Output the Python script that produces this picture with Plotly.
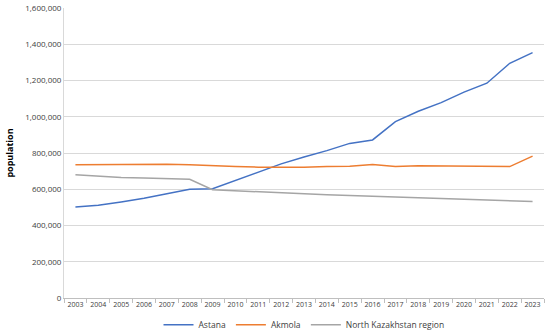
import plotly.graph_objects as go

years = [str(y) for y in range(2003, 2024)]
astana = [502000, 512000, 530000, 550000, 575000, 600000, 603000, 650000, 697000, 740000,
          778000, 813000, 853000, 872000, 973000, 1030000, 1078000, 1136000, 1185000, 1295000, 1354000]
akmola = [735000, 736000, 734000, 736000, 738000, 735000, 729000, 725000, 722000, 720000,
          722000, 726000, 727000, 736000, 725000, 729000, 728000, 729000, 727000, 725000, 783000]
north_kz = [680000, 672000, 665000, 662000, 660000, 655000, 597000, 591000, 586000, 580000,
            575000, 570000, 566000, 563000, 557000, 553000, 549000, 545000, 540000, 537000, 532000]
y_ticks = list(range(0, 1600001, 200000))

fig = go.Figure()
for name, vals, col in [("Astana", astana, "#4472C4"),
                        ("Akmola", akmola, "#ED7D31"),
                        ("North Kazakhstan region", north_kz, "#A5A5A5")]:
    fig.add_trace(go.Scatter(x=years, y=vals, name=name, mode="lines",
                             line=dict(color=col, width=1.5)))

fig.update_layout(
    width=550, height=336,
    margin=dict(l=64, r=6, t=8, b=38, autoexpand=False),
    plot_bgcolor="white", paper_bgcolor="white",
    font=dict(family="Open Sans, Liberation Sans, sans-serif", size=8, color="#404040"),
    legend=dict(orientation="h", x=0.5, xanchor="center", y=-0.042, yanchor="top",
                font=dict(size=8.5, color="#404040"), itemwidth=30),
    showlegend=True,
)
fig.update_xaxes(type="category", range=[-0.5, len(years) - 0.5], showgrid=False,
                 showline=True, linecolor="#BFBFBF", automargin=False,
                 ticks="outside", tickson="boundaries", ticklen=4, tickcolor="#BFBFBF",
                 tickangle=0, tickfont=dict(size=7))
fig.update_yaxes(range=[0, 1600000], tickvals=y_ticks, tickformat=",", showgrid=True,
                 gridcolor="#D9D9D9", showline=True, linecolor="#D9D9D9", automargin=False,
                 zeroline=False, tickfont=dict(size=8),
                 title=dict(text="<b>population</b>", font=dict(size=9, color="#000000"), standoff=10))

fig.write_html("out.html", config={"displayModeBar": False},
               post_script="document.body.style.margin='0';document.body.style.overflow='hidden';")
